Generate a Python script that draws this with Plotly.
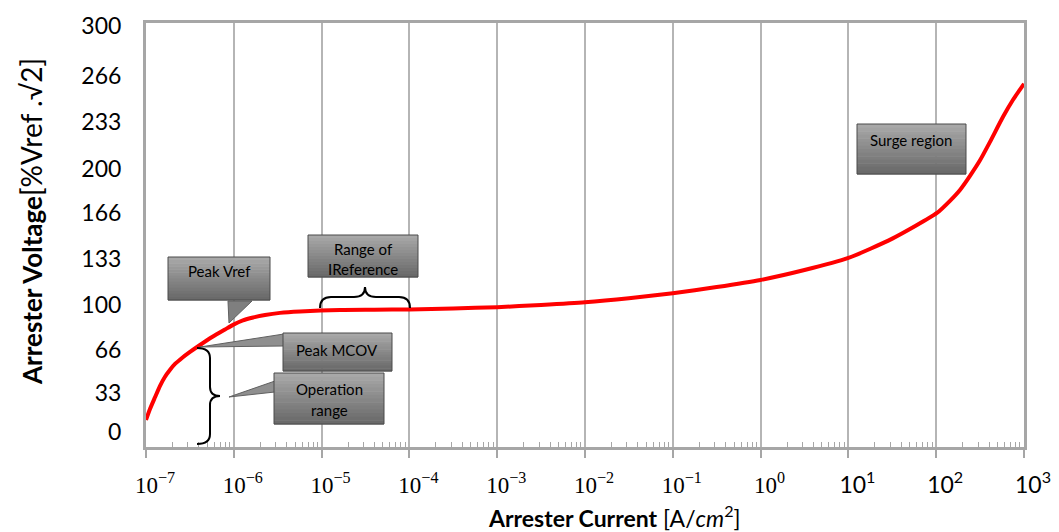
import plotly.graph_objects as go

# ---------------- data ----------------
current = [1.0e-7, 1.11e-7, 1.27e-7, 1.44e-7, 1.64e-7, 1.87e-7, 2.14e-7, 2.57e-7,
           3.17e-7, 4.12e-7, 5.79e-7, 7.94e-7, 9.79e-7, 1.27e-6, 1.66e-6, 2.27e-6,
           3.36e-6, 5.68e-6, 1.62e-5, 3.98e-5, 1.0e-4, 3.16e-4, 1.0e-3, 3.16e-3,
           1.0e-2, 3.16e-2, 1.0e-1, 0.316, 1.0, 3.16, 10.0, 31.6, 102.0, 143.5,
           186.6, 242.7, 315.5, 410.0, 577.0, 750.0, 1000.0]
voltage = [17.6, 25.4, 34.0, 41.9, 48.4, 53.4, 57.7, 62.0,
           66.3, 71.3, 77.4, 82.4, 85.7, 88.9, 91.0, 92.8,
           94.3, 95.3, 96.4, 96.6, 96.8, 97.5, 98.4, 100.0,
           101.9, 104.8, 108.4, 112.8, 117.9, 125.0, 133.7, 147.5, 165.9, 174.6,
           182.4, 192.5, 203.6, 216.8, 234.8, 247.0, 258.4]

y_tick_labels = ["0", "33", "66", "100", "133", "166", "200", "233", "266", "300"]
y_tick_pos = [9.0, 36.9, 67.7, 100, 133, 166, 197.5, 231.2, 264.2, 300]

x_tick_vals = [1e-7, 1e-6, 1e-5, 1e-4, 1e-3, 1e-2, 1e-1, 1e0, 1e1, 1e2, 1e3]
x_tick_labels = ["10<sup>−7</sup>", "10<sup>−6</sup>", "10<sup>−5</sup>", "10<sup>−4</sup>",
                 "10<sup>−3</sup>", "10<sup>−2</sup>", "10<sup>−1</sup>", "10<sup>0</sup>",
                 "<span style='font-family:Lato'>10<sup>1</sup></span>",
                 "<span style='font-family:Lato'>10<sup>2</sup></span>",
                 "<span style='font-family:Lato'>10<sup>3</sup></span>"]

# ---------------- layout geometry (pixels of the 1059x532 view) ----------------
OFF = 8                      # default page body margin
W, H = 1059 - OFF, 532 - OFF
PL, PR, PT, PB = 146, 1024, 23, 447   # plot area in view pixels


def px(x):
    return (x - PL) / (PR - PL)


def py(y):
    return (PB - y) / (PB - PT)


serif = "Liberation Serif, DejaVu Serif, serif"
sans = "Lato, Open Sans, sans-serif"

minor_vals = [m * 10.0 ** e for e in range(-7, 3) for m in range(2, 10)]

fig = go.Figure()
fig.add_trace(go.Scatter(
    x=current, y=voltage, mode="lines",
    line=dict(color="#ff0000", width=4, shape="spline", smoothing=0.6),
    showlegend=False, hoverinfo="skip"))

shapes = []
annotations = []


def box(x0, y0, x1, y1, n=14):
    top = (168, 168, 168)
    bot = (106, 106, 106)
    for i in range(n):
        t = i / (n - 1)
        c = tuple(int(top[k] + (bot[k] - top[k]) * t) for k in range(3))
        ya = y0 + (y1 - y0) * i / n
        yb = y0 + (y1 - y0) * (i + 1) / n
        shapes.append(dict(type="rect", xref="paper", yref="paper",
                           x0=px(x0), x1=px(x1), y0=py(ya), y1=py(yb + 0.5),
                           fillcolor=f"rgb{c}", line=dict(width=0), layer="above"))
    shapes.append(dict(type="rect", xref="paper", yref="paper",
                       x0=px(x0), x1=px(x1), y0=py(y0), y1=py(y1),
                       fillcolor="rgba(0,0,0,0)",
                       line=dict(color="#4a4a4a", width=1), layer="above"))


def tri(pts, color="#8a8a8a"):
    path = "M " + " L ".join(f"{px(a):.5f},{py(b):.5f}" for a, b in pts) + " Z"
    shapes.append(dict(type="path", xref="paper", yref="paper", path=path,
                       fillcolor=color, line=dict(color="#606060", width=1),
                       layer="above"))


def label(x, y, text, size=15):
    annotations.append(dict(xref="paper", yref="paper", x=px(x), y=py(y),
                            text=text, showarrow=False,
                            font=dict(family=sans, size=size, color="#000000"),
                            xanchor="center", yanchor="middle"))


# pointers first, boxes over them
tri([(228, 301), (252, 301), (229, 323)], "#7f7f7f")
tri([(200, 347), (284, 334), (284, 346)], "#8f8f8f")
tri([(229, 397), (275, 381), (275, 392)], "#8f8f8f")

box(168, 257, 270, 300)
box(308, 235, 418, 277)
box(283, 333, 392, 371)
box(274, 373, 384, 424)
box(857, 124, 966, 174)

label(219, 271, "Peak Vref")
label(363, 249, "Range of")
label(363, 269, "IReference")
label(337, 350, "Peak MCOV")
label(329, 389, "Operation")
label(329, 410, "range")
label(911, 140, "Surge region")

# horizontal brace (range of IReference)
hb = (f"M {px(320)},{py(308)} Q {px(320)},{py(297)} {px(331)},{py(297)} "
      f"L {px(354)},{py(297)} Q {px(365)},{py(297)} {px(365)},{py(287)} "
      f"Q {px(365)},{py(297)} {px(376)},{py(297)} "
      f"L {px(399)},{py(297)} Q {px(410)},{py(297)} {px(410)},{py(308)}")
shapes.append(dict(type="path", xref="paper", yref="paper", path=hb,
                   line=dict(color="black", width=2), layer="above"))

# vertical brace (operation range)
vb = (f"M {px(197)},{py(348)} Q {px(210)},{py(348)} {px(210)},{py(358)} "
      f"L {px(210)},{py(387)} Q {px(210)},{py(396)} {px(220)},{py(396)} "
      f"Q {px(210)},{py(396)} {px(210)},{py(405)} "
      f"L {px(210)},{py(434)} Q {px(210)},{py(444)} {px(197)},{py(444)}")
shapes.append(dict(type="path", xref="paper", yref="paper", path=vb,
                   line=dict(color="black", width=2), layer="above"))

# axis titles
annotations.append(dict(xref="paper", yref="paper", x=px(31), y=py(222),
                        text="<b>Arrester Voltage</b><span style='font-size:28px'>[%Vref .√2]</span>",
                        textangle=-90,
                        showarrow=False, xanchor="center", yanchor="middle",
                        font=dict(family=sans, size=26, color="black")))
annotations.append(dict(xref="paper", yref="paper", x=px(614), y=py(516),
                        text="<b>Arrester Current</b> [A/<i>cm</i><sup>2</sup>]",
                        showarrow=False, xanchor="center", yanchor="middle",
                        font=dict(family=sans, size=23, color="black")))

fig.update_layout(
    width=W, height=H,
    margin=dict(l=PL - OFF, r=W - (PR - OFF), t=PT - OFF, b=H - (PB - OFF),
                autoexpand=False),
    paper_bgcolor="white", plot_bgcolor="white",
    shapes=shapes, annotations=annotations,
    xaxis=dict(type="log", range=[-7, 3], tickvals=x_tick_vals, ticktext=x_tick_labels,
               automargin=False,
               showgrid=True, gridcolor="#b5b5b5", gridwidth=1.5,
               showline=True, linecolor="#a6a6a6", linewidth=3, mirror=True,
               ticks="outside", ticklen=8, tickwidth=2, tickcolor="#a6a6a6",
               ticklabelstandoff=7, ticklabelshift=9,
               tickfont=dict(family=serif, size=23, color="black"),
               minor=dict(tickvals=minor_vals, ticks="inside", ticklen=5,
                          tickwidth=1, tickcolor="#a6a6a6", showgrid=False),
               zeroline=False),
    yaxis=dict(range=[-1.8, 302], tickvals=y_tick_pos, ticktext=y_tick_labels,
               automargin=False,
               showgrid=False, zeroline=False,
               showline=True, linecolor="#a6a6a6", linewidth=3, mirror=True,
               ticks="", ticklabelstandoff=17,
               tickfont=dict(family=sans, size=23, color="black")),
)

fig.write_html("out.html")
